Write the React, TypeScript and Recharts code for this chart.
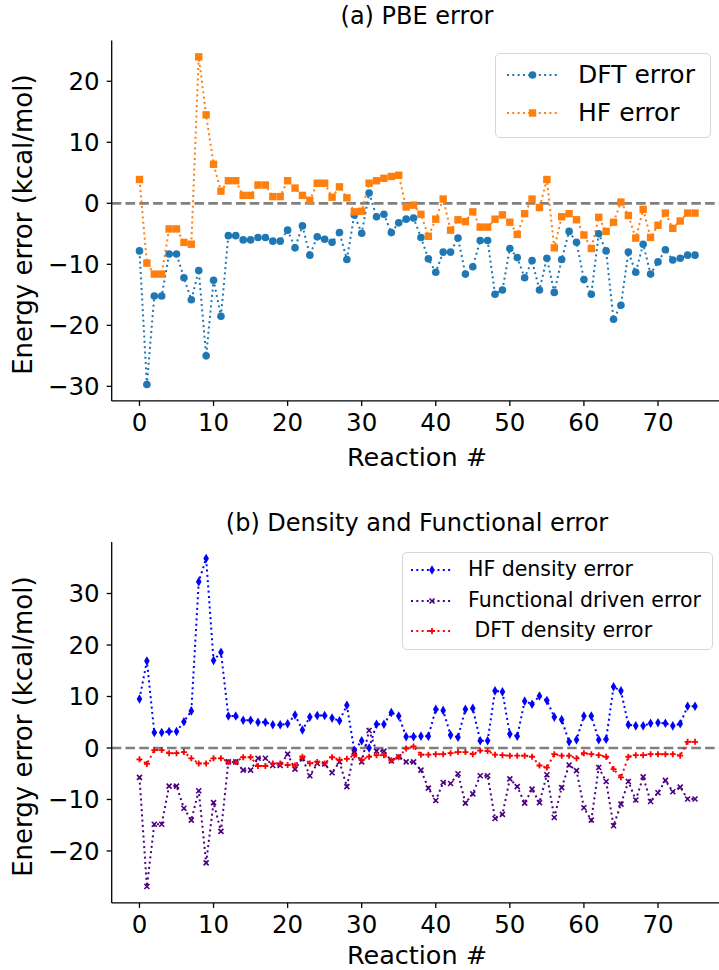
import React from 'react';
import { LineChart, Line, XAxis, YAxis, ReferenceLine } from 'recharts';

// reaction index (x axis)
const reactions = [
  0, 1, 2, 3, 4, 5, 6, 7, 8, 9, 10, 11, 12, 13, 14, 15, 16, 17, 18, 19,
  20, 21, 22, 23, 24, 25, 26, 27, 28, 29, 30, 31, 32, 33, 34, 35, 36, 37, 38, 39,
  40, 41, 42, 43, 44, 45, 46, 47, 48, 49, 50, 51, 52, 53, 54, 55, 56, 57, 58, 59,
  60, 61, 62, 63, 64, 65, 66, 67, 68, 69, 70, 71, 72, 73, 74, 75,
];

// (a) PBE error
const dftError = [
  -7.8, -29.7, -15.2, -15.2, -8.3, -8.3, -12.2, -15.8, -11.0, -25.0,
  -12.6, -18.5, -5.3, -5.3, -6.0, -6.0, -5.6, -5.6, -6.2, -6.2,
  -4.4, -7.3, -3.7, -8.5, -5.5, -5.9, -6.4, -4.8, -9.2, -1.9,
  -4.9, 1.7, -2.2, -1.8, -4.8, -3.2, -2.6, -2.4, -5.6, -9.1,
  -11.3, -8.0, -8.0, -5.7, -11.6, -10.4, -6.1, -6.1, -14.9, -14.2,
  -7.4, -8.9, -12.2, -9.4, -14.2, -9.0, -14.6, -9.2, -4.6, -6.4,
  -12.5, -14.9, -5.0, -7.8, -19.0, -16.7, -8.0, -11.3, -6.7, -11.6,
  -9.6, -7.6, -9.3, -9.0, -8.5, -8.5,
];
const hfError = [
  3.9, -9.8, -11.6, -11.6, -4.2, -4.2, -6.4, -6.7, 24.0, 14.5,
  6.4, 2.0, 3.7, 3.7, 1.3, 1.3, 3.0, 3.0, 1.1, 1.1,
  3.7, 2.5, 1.3, 0.5, 3.3, 3.3, 1.0, 2.7, 0.9, -1.4,
  -1.3, 3.3, 3.7, 4.1, 4.4, 4.6, -0.6, -0.3, -1.8, -5.4,
  -2.6, 0.7, -4.4, -2.7, -3.0, -1.4, -3.9, -3.9, -2.6, -1.9,
  -3.1, -5.1, -1.7, 0.7, -0.7, 3.9, -7.3, -2.2, -1.7, -2.7,
  -5.2, -7.4, -2.3, -4.6, -3.1, 0.2, -2.0, -5.7, -1.0, -5.6,
  -3.6, -1.6, -4.1, -2.9, -1.6, -1.6,
];

// (b) Density and Functional error
const hfDensityError = [
  9.5, 16.9, 3.0, 3.0, 3.2, 3.2, 5.1, 7.2, 32.3, 36.8,
  17.0, 18.6, 6.2, 6.2, 5.4, 5.4, 5.0, 5.0, 4.5, 4.5,
  4.7, 6.4, 3.5, 6.0, 6.3, 6.3, 5.8, 5.3, 8.3, -0.5,
  1.4, 0.0, 4.6, 4.6, 6.9, 6.2, 2.2, 2.2, 2.3, 2.3,
  7.5, 7.3, 2.5, 2.1, 7.5, 7.7, 1.4, 1.4, 11.1, 10.9,
  2.7, 2.3, 9.1, 8.5, 10.1, 9.2, 6.0, 5.5, 1.2, 1.6,
  6.2, 6.2, 1.6, 1.7, 11.9, 11.1, 4.5, 4.3, 4.3, 4.8,
  4.9, 4.8, 4.3, 4.7, 8.1, 8.1,
];
const functionalError = [
  -5.7, -26.9, -14.8, -14.8, -7.4, -7.4, -11.7, -14.0, -8.3, -22.3,
  -10.6, -16.2, -2.7, -2.7, -4.3, -4.3, -2.0, -2.0, -3.4, -3.4,
  -1.2, -4.1, -2.0, -5.4, -3.0, -3.1, -4.8, -2.7, -7.5, -0.7,
  -2.7, 3.4, -0.6, -0.6, -2.5, -1.7, -2.7, -2.7, -4.3, -7.8,
  -10.2, -6.7, -6.9, -5.0, -10.7, -8.9, -5.4, -5.4, -13.7, -12.9,
  -6.0, -7.5, -10.7, -8.0, -10.6, -5.2, -13.5, -7.7, -3.3, -4.4,
  -11.6, -14.0, -3.8, -6.5, -15.1, -10.9, -6.5, -10.1, -5.6, -10.4,
  -8.7, -6.3, -8.5, -7.6, -9.9, -9.9,
];
const dftDensityError = [
  -2.2, -3.1, -0.4, -0.4, -1.0, -1.0, -0.8, -2.0, -3.0, -3.0,
  -2.0, -2.0, -2.7, -2.7, -1.8, -1.8, -3.5, -3.5, -3.0, -3.0,
  -3.3, -3.4, -1.7, -3.0, -2.7, -3.0, -1.8, -2.3, -2.1, -1.4,
  -2.3, -1.7, -1.4, -1.4, -2.4, -1.8, -0.1, 0.3, -1.3, -1.3,
  -1.2, -1.2, -1.0, -0.8, -0.8, -1.2, -0.5, -0.6, -1.3, -1.4,
  -1.5, -1.5, -1.5, -1.7, -3.4, -3.8, -1.2, -1.5, -1.5, -2.0,
  -1.0, -1.2, -1.4, -1.7, -4.1, -5.7, -1.7, -1.4, -1.4, -1.2,
  -1.2, -1.2, -1.2, -1.5, 1.2, 1.2,
];

const xTicks = [0, 10, 20, 30, 40, 50, 60, 70];
const yTicksA = [-30, -20, -10, 0, 10, 20];
const yTicksB = [-20, -10, 0, 10, 20, 30];

const dataA = reactions.map((r, i) => ({ r, dft: dftError[i], hf: hfError[i] }));
const dataB = reactions.map((r, i) => ({
  r,
  hfd: hfDensityError[i],
  fde: functionalError[i],
  dftd: dftDensityError[i],
}));

const FONT = '"DejaVu Sans", Verdana, sans-serif';
const C_DFT = '#1f77b4';
const C_HF = '#ff7f0e';
const C_HFD = '#0000ff';
const C_FDE = '#4b0082';
const C_DFTD = '#ff0000';
const DOTTED = '2 3.3';

// marker shapes
const circle = (color: string) => (cx: number, cy: number) => <circle cx={cx} cy={cy} r={3.8} fill={color} />;
const square = (color: string) => (cx: number, cy: number) => (
  <rect x={cx - 3.7} y={cy - 3.7} width={7.4} height={7.4} fill={color} />
);
const diamond = (color: string) => (cx: number, cy: number) => (
  <polygon points={`${cx},${cy - 4.8} ${cx + 2.8},${cy} ${cx},${cy + 4.8} ${cx - 2.8},${cy}`} fill={color} />
);
const cross = (color: string) => (cx: number, cy: number) => (
  <path d={`M${cx - 2.5},${cy - 2.5}L${cx + 2.5},${cy + 2.5}M${cx - 2.5},${cy + 2.5}L${cx + 2.5},${cy - 2.5}`} stroke={color} strokeWidth={1.6} />
);
const plus = (color: string) => (cx: number, cy: number) => (
  <path d={`M${cx - 3},${cy}L${cx + 3},${cy}M${cx},${cy - 3}L${cx},${cy + 3}`} stroke={color} strokeWidth={1.8} />
);

const dotFn = (shape: (cx: number, cy: number) => React.ReactElement) => (props: any) => {
  const { cx, cy, index } = props;
  if (cx == null || cy == null) return <g key={index} />;
  return <g key={index}>{shape(cx, cy)}</g>;
};

const minus = (v: number) => String(v).replace('-', '\u2212');
const tickStyle = { fill: '#000', fontSize: 24.5, fontFamily: FONT };

const CHART_W = 740;
const CHART_H = 480;
const PLOT_L = 111.7;
const PLOT_R = 722.8;

interface Axes {
  top: number;
  bottom: number;
  domain: [number, number];
  ticks: number[];
}

const frame = ({ top, bottom, domain, ticks }: Axes) => ({
  margin: { top, right: CHART_W - PLOT_R, bottom: CHART_H - bottom - 40, left: PLOT_L - 60 },
  axes: [
    <XAxis
      key="x"
      dataKey="r"
      type="number"
      domain={[-3.75, 78.75]}
      ticks={xTicks}
      allowDataOverflow
      height={40}
      tickSize={5}
      tickMargin={8}
      tick={tickStyle}
      axisLine={{ stroke: '#000', strokeWidth: 1.3 }}
      tickLine={{ stroke: '#000', strokeWidth: 1.3 }}
    />,
    <XAxis
      key="xt"
      xAxisId="top"
      dataKey="r"
      type="number"
      orientation="top"
      domain={[-3.75, 78.75]}
      height={0}
      tick={false}
      tickLine={false}
      axisLine={{ stroke: '#000', strokeWidth: 1.3 }}
    />,
    <YAxis
      key="y"
      type="number"
      domain={domain}
      ticks={ticks}
      allowDataOverflow
      width={60}
      tickSize={5}
      tickMargin={7}
      tick={tickStyle}
      tickFormatter={minus}
      axisLine={{ stroke: '#000', strokeWidth: 1.3 }}
      tickLine={{ stroke: '#000', strokeWidth: 1.3 }}
    />,
    <ReferenceLine key="zero" y={0} stroke="#808080" strokeWidth={2.7} strokeDasharray="9.6 4.2" />,
  ],
});

const Handle = ({ color, shape, width }: { color: string; shape: (cx: number, cy: number) => React.ReactElement; width: number }) => (
  <svg width={width} height={20} style={{ display: 'block' }}>
    <line x1={0} y1={10} x2={width} y2={10} stroke={color} strokeWidth={2} strokeDasharray={DOTTED} />
    {shape(width / 2, 10)}
  </svg>
);

interface LegendRow {
  label: string;
  color: string;
  shape: (cx: number, cy: number) => React.ReactElement;
  y: number;
}

const LegendBox = ({ left, top, width, height, rows, handleX, handleW, textX, fontSize }: {
  left: number; top: number; width: number; height: number; rows: LegendRow[];
  handleX: number; handleW: number; textX: number; fontSize: number;
}) => (
  <div
    style={{
      position: 'absolute', left, top, width, height, boxSizing: 'border-box',
      border: '1.3px solid #d6d6d6', borderRadius: 5, background: 'rgba(255,255,255,0.8)',
    }}
  >
    {rows.map((row) => (
      <React.Fragment key={row.label}>
        <div style={{ position: 'absolute', left: handleX, top: row.y - 10 }}>
          <Handle color={row.color} shape={row.shape} width={handleW} />
        </div>
        <div
          style={{
            position: 'absolute', left: textX, top: row.y - fontSize * 0.62, fontSize,
            lineHeight: `${fontSize * 1.2}px`, fontFamily: FONT, color: '#000', whiteSpace: 'pre',
          }}
        >
          {row.label}
        </div>
      </React.Fragment>
    ))}
  </div>
);

const Text = ({ x, y, size, children, rotate }: { x: number; y: number; size: number; children: string; rotate?: boolean }) => (
  <div
    style={{
      position: 'absolute', left: x - 250, top: y - size * 0.6, width: 500, textAlign: 'center',
      fontSize: size, lineHeight: `${size * 1.2}px`, fontFamily: FONT, color: '#000', whiteSpace: 'pre',
      transform: rotate ? 'rotate(-90deg)' : undefined,
    }}
  >
    {children}
  </div>
);

export default function App() {
  const a = frame({ top: 40.5, bottom: 400.9, domain: [-32.385, 26.685], ticks: yTicksA });
  const b = frame({ top: 542.1, bottom: 902.9, domain: [-30.085, 39.985], ticks: yTicksB });

  return (
    <div style={{ position: 'absolute', left: 0, top: 0, width: 719, height: 970, overflow: 'hidden', background: '#fff' }}>
      <div style={{ position: 'absolute', left: 0, top: 0 }}>
        <LineChart width={CHART_W} height={CHART_H} data={dataA} margin={a.margin}>
          {a.axes}
          <Line type="linear" dataKey="dft" stroke={C_DFT} strokeWidth={2} strokeDasharray={DOTTED}
            dot={dotFn(circle(C_DFT))} activeDot={false} isAnimationActive={false} />
          <Line type="linear" dataKey="hf" stroke={C_HF} strokeWidth={2} strokeDasharray={DOTTED}
            dot={dotFn(square(C_HF))} activeDot={false} isAnimationActive={false} />
        </LineChart>
      </div>
      <div style={{ position: 'absolute', left: 0, top: 0 }}>
        <LineChart width={CHART_W} height={CHART_H + 500} data={dataB} margin={{ ...b.margin, bottom: b.margin.bottom + 500 }}>
          {b.axes}
          <Line type="linear" dataKey="hfd" stroke={C_HFD} strokeWidth={2} strokeDasharray={DOTTED}
            dot={dotFn(diamond(C_HFD))} activeDot={false} isAnimationActive={false} />
          <Line type="linear" dataKey="fde" stroke={C_FDE} strokeWidth={2} strokeDasharray={DOTTED}
            dot={dotFn(cross(C_FDE))} activeDot={false} isAnimationActive={false} />
          <Line type="linear" dataKey="dftd" stroke={C_DFTD} strokeWidth={2} strokeDasharray={DOTTED}
            dot={dotFn(plus(C_DFTD))} activeDot={false} isAnimationActive={false} />
        </LineChart>
      </div>

      <Text x={417} y={16} size={24}>(a) PBE error</Text>
      <Text x={417} y={457} size={25.5}>Reaction #</Text>
      <Text x={23.5} y={224.7} size={26} rotate>Energy error (kcal/mol)</Text>

      <Text x={417} y={523} size={24}>(b) Density and Functional error</Text>
      <Text x={417} y={955} size={25.5}>Reaction #</Text>
      <Text x={23.5} y={726.5} size={26} rotate>Energy error (kcal/mol)</Text>

      <LegendBox
        left={495} top={53} width={216} height={85} handleX={11} handleW={51} textX={82} fontSize={25}
        rows={[
          { label: 'DFT error', color: C_DFT, shape: circle(C_DFT), y: 21.3 },
          { label: 'HF error', color: C_HF, shape: square(C_HF), y: 59.3 },
        ]}
      />
      <LegendBox
        left={402} top={552} width={311} height={98} handleX={8} handleW={42} textX={65} fontSize={20.5}
        rows={[
          { label: 'HF density error', color: C_HFD, shape: diamond(C_HFD), y: 17 },
          { label: 'Functional driven error', color: C_FDE, shape: cross(C_FDE), y: 47.5 },
          { label: ' DFT density error', color: C_DFTD, shape: plus(C_DFTD), y: 78 },
        ]}
      />
    </div>
  );
}
